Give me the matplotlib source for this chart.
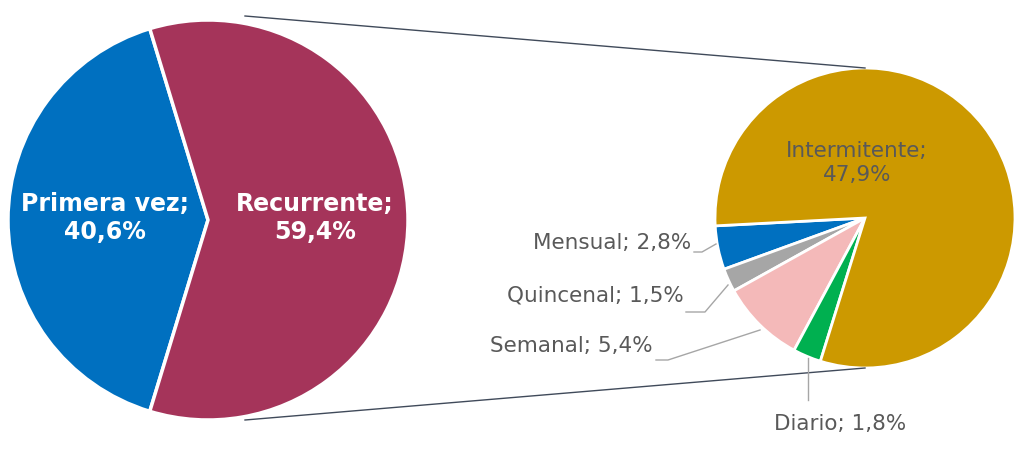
import matplotlib.pyplot as plt

main_labels = ["Primera vez", "Recurrente"]
main_values = [40.6, 59.4]
main_colors = ["#0070C0", "#A5345A"]

sub_labels = ["Mensual", "Quincenal", "Semanal", "Diario", "Intermitente"]
sub_values = [2.8, 1.5, 5.4, 1.8, 47.9]
sub_colors = ["#0070C0", "#A6A6A6", "#F4B9B9", "#00B050", "#CC9900"]

W, H = 1024, 465
fig = plt.figure(figsize=(W/100, H/100), dpi=100)
ax = fig.add_axes([0, 0, 1, 1])
ax.set_xlim(0, W); ax.set_ylim(0, H); ax.set_aspect('equal'); ax.axis('off')
Y = lambda y: H - y

fmt = lambda v: f"{v:.1f}".replace(".", ",") + "%"

# main pie: Recurrente centred on the right
rec_ang = main_values[1] / 100 * 360
ax.pie(main_values, colors=main_colors, center=(208, Y(220)), radius=200,
       startangle=rec_ang/2, counterclock=True,
       wedgeprops=dict(edgecolor="white", linewidth=2.5), frame=True)
ax.set_xlim(0, W); ax.set_ylim(0, H); ax.axis('off')
ax.text(105, Y(218), f"{main_labels[0]};\n{fmt(main_values[0])}", ha="center", va="center",
        color="white", fontsize=17, fontweight="bold", linespacing=1.2)
ax.text(315, Y(218), f"{main_labels[1]};\n{fmt(main_values[1])}", ha="center", va="center",
        color="white", fontsize=17, fontweight="bold", linespacing=1.2)

# connector lines
ax.plot([245, 865], [Y(16), Y(68)], color="#404a5a", lw=1)
ax.plot([245, 865], [Y(420), Y(368)], color="#404a5a", lw=1)

# sub pie
ax.pie(sub_values, colors=sub_colors, center=(865, Y(218)), radius=150,
       startangle=183, counterclock=True,
       wedgeprops=dict(edgecolor="white", linewidth=2), frame=True)
ax.set_xlim(0, W); ax.set_ylim(0, H); ax.axis('off')

tc = "#595959"
fs = 15.5
ax.text(857, Y(163), f"{sub_labels[4]};\n{fmt(sub_values[4])}", ha="center", va="center",
        color=tc, fontsize=fs, linespacing=1.2)
ax.text(691, Y(243), f"{sub_labels[0]}; {fmt(sub_values[0])}", ha="right", va="center", color=tc, fontsize=fs)
ax.text(684, Y(295), f"{sub_labels[1]}; {fmt(sub_values[1])}", ha="right", va="center", color=tc, fontsize=fs)
ax.text(653, Y(346), f"{sub_labels[2]}; {fmt(sub_values[2])}", ha="right", va="center", color=tc, fontsize=fs)
ax.text(840, Y(424), f"{sub_labels[3]}; {fmt(sub_values[3])}", ha="center", va="center", color=tc, fontsize=fs)

lc = "#A6A6A6"
ax.plot([694, 702, 716], [Y(252), Y(252), Y(244)], color=lc, lw=1)
ax.plot([686, 705, 728], [Y(312), Y(312), Y(285)], color=lc, lw=1)
ax.plot([656, 668, 760], [Y(360), Y(360), Y(330)], color=lc, lw=1)
ax.plot([808, 808], [Y(400), Y(358)], color=lc, lw=1)

fig.savefig("out.png", dpi=100)
